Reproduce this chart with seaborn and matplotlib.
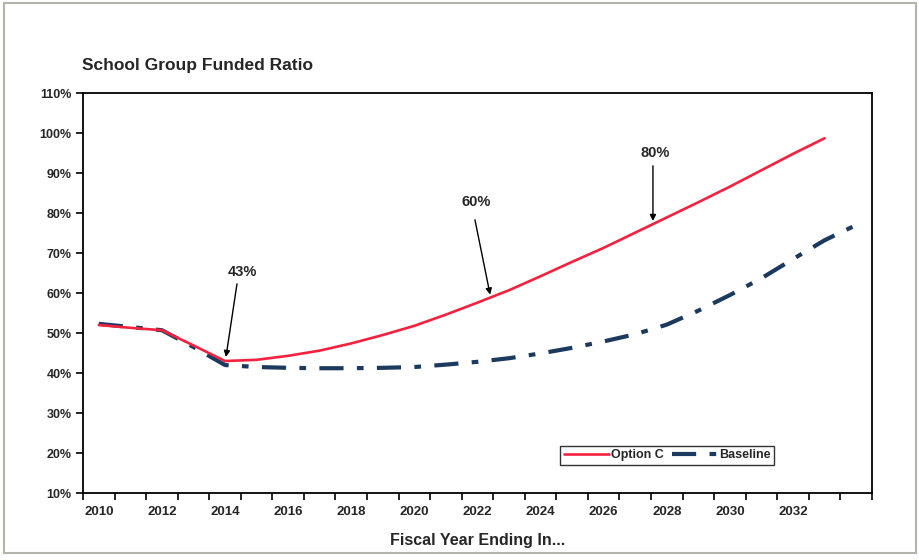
import matplotlib
matplotlib.use("Agg")
import matplotlib.pyplot as plt
from matplotlib.patches import Rectangle
import numpy as np
import pandas as pd
import seaborn as sns

# Fiscal years and projected funded ratios (%)
years_option_c = list(range(2010, 2034))
option_c = [52.0, 51.3, 50.7, 46.9, 43.0, 43.3, 44.3, 45.6, 47.4, 49.5,
            51.8, 54.6, 57.6, 60.7, 64.2, 67.8, 71.3, 75.1, 78.9, 82.7,
            86.6, 90.7, 94.8, 98.7]

years_baseline = list(range(2010, 2035))
baseline = [52.3, 51.5, 50.7, 46.5, 42.0, 41.5, 41.3, 41.2, 41.2, 41.3,
            41.5, 42.1, 42.8, 43.7, 44.9, 46.3, 47.9, 49.7, 52.1, 55.6,
            59.5, 63.7, 68.5, 73.2, 77.0]

tick_years = list(range(2010, 2033, 2))
y_ticks = list(range(10, 111, 10))

# Callouts: (label, text position, arrow tail, arrow head) in data units
callouts = [
    ("43%", (2014.55, 65.3), (2014.38, 62.3), (2014.03, 44.0)),
    ("60%", (2021.95, 82.8), (2021.92, 78.3), (2022.40, 59.6)),
    ("80%", (2027.62, 95.0), (2027.56, 91.8), (2027.56, 78.0)),
]

df_c = pd.DataFrame({"year": years_option_c, "ratio": option_c})
df_b = pd.DataFrame({"year": years_baseline, "ratio": baseline})

sns.set_style("white")
plt.rcParams["font.family"] = ["Liberation Sans", "DejaVu Sans"]
plt.rcParams["font.weight"] = "bold"

fig = plt.figure(figsize=(9.2, 5.6), dpi=100)
ax = fig.add_axes([0.0902, 0.1196, 0.8576, 0.7143])

red = "#f4213f"
navy = "#1b3a5e"

sns.lineplot(data=df_c, x="year", y="ratio", ax=ax, color=red, lw=1.9,
             label="Option C", zorder=3)
sns.lineplot(data=df_b, x="year", y="ratio", ax=ax, color=navy, lw=3.0,
             label="Baseline", zorder=2)
ax.lines[1].set_dashes((5.8, 3.2, 1.6, 3.2))

ax.set_xlim(2009.5, 2034.5)
ax.set_ylim(10, 110)

# Category-style x axis: ticks on year boundaries, labels on even years
ax.set_xticks(np.arange(2009.5, 2035.0, 1.0))
ax.set_xticklabels([])
ax.set_xticks(tick_years, minor=True)
ax.set_xticklabels([str(y) for y in tick_years], minor=True,
                   fontsize=9.5, fontweight="bold")
ax.tick_params(axis="x", which="major", direction="out", length=5,
               width=1.2, color="black", bottom=True)
ax.tick_params(axis="x", which="minor", length=0, pad=9, bottom=True)

ax.set_yticks(y_ticks)
ax.set_yticklabels([f"{v}%" for v in y_ticks], fontsize=9, fontweight="bold")
ax.tick_params(axis="y", direction="out", length=5, width=1.2,
               color="black", left=True, pad=3)

for s in ax.spines.values():
    s.set_color("black")
    s.set_linewidth(1.3)

ax.set_xlabel("Fiscal Year Ending In...", fontsize=11.5, fontweight="bold",
              labelpad=11)
ax.set_ylabel("")
ax.grid(False)

fig.text(0.089, 0.883, "School Group Funded Ratio", fontsize=12.5,
         fontweight="bold", ha="left", va="center")

for label, txt, tail, head in callouts:
    ax.text(txt[0], txt[1], label, fontsize=10.5, fontweight="bold",
            ha="center", va="center")
    ax.annotate("", xy=head, xytext=tail,
                arrowprops=dict(arrowstyle="-|>", color="black", lw=1.0,
                                mutation_scale=9, shrinkA=0, shrinkB=0))

leg = ax.legend(loc="lower left", bbox_to_anchor=(0.6046, 0.07), ncol=2,
                frameon=True, fancybox=False, shadow=False, fontsize=9,
                handlelength=3.6, handletextpad=0.2, columnspacing=0.6,
                borderpad=0.3, borderaxespad=0)
leg.get_frame().set_edgecolor("black")
leg.get_frame().set_linewidth(1.0)
for t in leg.get_texts():
    t.set_fontweight("bold")

# Outer page frame
fig.patches.append(Rectangle((0.004, 0.012), 0.992, 0.982,
                             transform=fig.transFigure, fill=False,
                             edgecolor="#b4b4ac", lw=1.5))

fig.savefig("out.png", dpi=100)
